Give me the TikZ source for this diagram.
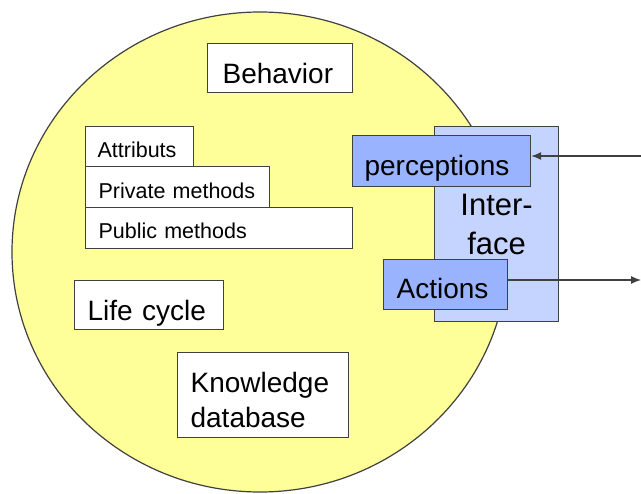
\documentclass[tikz,border=0pt]{standalone}
\usepackage{fontspec}
\setmainfont{Liberation Sans}
\usetikzlibrary{shapes.geometric,arrows.meta}

\definecolor{agentyellow}{RGB}{255,255,153}
\definecolor{ifaceblue}{RGB}{196,212,255}
\definecolor{portblue}{RGB}{153,179,255}
\definecolor{edgegray}{RGB}{64,64,64}

\begin{document}
\begin{tikzpicture}[
       x=1pt, y=-1pt,
       part/.style={
         draw=edgegray,
         fill=white,
         line width=1.2pt,
         inner ysep=0pt,
         anchor=north west,
         align=left
       },
       big/.style={font=\fontsize{28}{35}\selectfont},
       small/.style={font=\fontsize{21.5}{26}\selectfont},
       port/.style={part, fill=portblue},
       flow/.style={draw=edgegray, line width=1.2pt, -{Latex[length=10pt,width=8pt]}}
     ]
\useasboundingbox (0,0) rectangle (641,494);

\node[ellipse,draw=edgegray,fill=agentyellow,line width=1.2pt,inner sep=0pt,minimum width=496pt,minimum height=480pt] (agent) at (260,252) {};

\node[part,big,inner xsep=15pt,text width=115pt,text height=40pt,text depth=9pt] (behav) at (207,43) {Behavior};
\node[part,small,inner xsep=12pt,text width=84pt,text height=31pt,text depth=9pt] (attr) at (85,126) {Attributs};
\node[part,small,inner xsep=13pt,text width=158pt,text height=32pt,text depth=9pt] (priv) at (85,166) {Private methods};
\node[part,small,inner xsep=13pt,text width=241pt,text height=31pt,text depth=10pt] (publ) at (85,207) {Public methods};
\node[part,big,inner xsep=13pt,text width=123pt,text height=40pt,text depth=9pt] (life) at (74,280) {Life cycle};
\node[part,big,inner xsep=13pt,text width=145pt,text height=40pt,text depth=45pt] (know) at (177,352) {Knowledge\\database};

\node[part,fill=ifaceblue,align=center,inner sep=0pt,minimum width=124pt,minimum height=195pt,font=\fontsize{31}{39}\selectfont] (iface) at (434,126) {Inter-\\face};
\node[port,big,inner xsep=12pt,text width=154pt,text height=40pt,text depth=11pt] (perc) at (352,135) {perceptions};
\node[port,big,inner xsep=13pt,text width=98pt,text height=39pt,text depth=11pt] (act) at (383,259) {Actions};

\coordinate (inpt) at (641,156);
\coordinate (outpt) at (641,280);
\draw[flow] (inpt) -- (inpt -| perc.east);
\draw[flow] (act.east |- outpt) -- (outpt);

\end{tikzpicture}
\end{document}
